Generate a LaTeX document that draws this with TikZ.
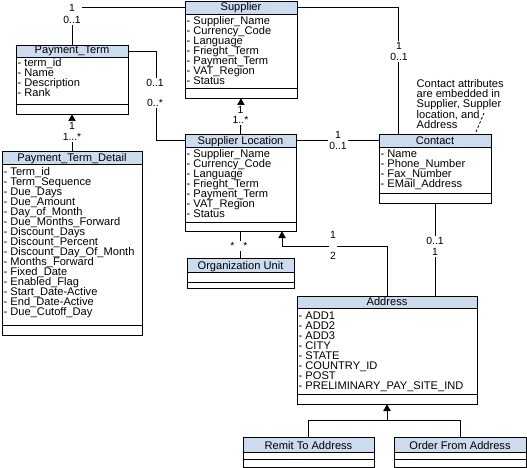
\documentclass[tikz,border=0pt]{standalone}
\usepackage{fontspec}
\setmainfont{Liberation Sans}
\usetikzlibrary{arrows.meta,fit,calc}
\definecolor{hdr}{RGB}{204,219,237}
\newcommand\cfont{\fontsize{11.1}{10}\selectfont}
\newcommand\lfont{\fontsize{10.4}{11}\selectfont}
% name, x1, y1, x2, y header bottom, y separator, y2, title
\newcommand\umlcls[8]{%
  \fill[hdr] (#2,#3) rectangle (#4,#5);
  \draw[box] (#2,#3) rectangle (#4,#7);
  \draw[box] (#2,#5) -- (#4,#5);
  \draw[box] (#2,#6) -- (#4,#6);
  \path (#2,#3) coordinate (#1-nw) (#4,#7) coordinate (#1-se)
        (#2,#5) coordinate (#1-hsw) (#4,#3) coordinate (#1-ne);
  \node[fit=(#1-nw)(#1-se),inner sep=0pt] (#1) {};
  \node[fit=(#1-nw)(#1-hsw)(#1-ne),inner sep=0pt] (#1-h) {};
  \node[ttl,anchor=base] (#1-t) at ({(#2+#4)/2},{#5-3}) {#8};
}
% name, x, first baseline, list
\newcommand\umlattrs[4]{%
  \foreach \t [count=\i from 0] in {#4}
    \node[attr,anchor=base west] (#1-a\i) at (#2,{#3+10*\i}) {- \t};
}
\begin{document}
\begin{tikzpicture}[x=1pt,y=-1pt,
  box/.style={line width=0.9pt},
  ttl/.style={font=\cfont,inner sep=0pt},
  attr/.style={font=\cfont,inner sep=0pt},
  lbl/.style={font=\lfont,fill=white,inner sep=1pt,align=center},
  conn/.style={line width=0.9pt},
  inh/.style={line width=0.9pt,-{Triangle[width=7.5pt,length=7pt]}},
  note/.style={font=\cfont,inner sep=0pt,align=left,anchor=north west}]
\useasboundingbox (0,0) rectangle (527,468);

\umlcls{sup}{185}{1}{297}{14}{88}{98}{Supplier}
\umlattrs{sup}{186.5}{25}{Supplier\_Name,Currency\_Code,Language,Frieght\_Term,Payment\_Term,VAT\_Region,Status}

\umlcls{pt}{16}{45}{128}{57}{104}{114}{Payment\_Term}
\umlattrs{pt}{17.5}{67}{term\_id,Name,Description,Rank}

\umlcls{ptd}{2}{151}{142}{164}{325}{335}{Payment\_Term\_Detail}
\umlattrs{ptd}{3.5}{175}{Term\_id,Term\_Sequence,Due\_Days,Due\_Amount,Day\_of\_Month,Due\_Months\_Forward,Discount\_Days,Discount\_Percent,Discount\_Day\_Of\_Month,Months\_Forward,Fixed\_Date,Enabled\_Flag,Start\_Date-Active,End\_Date-Active,Due\_Cutoff\_Day}

\umlcls{sl}{185}{134}{296}{147}{222}{231}{Supplier Location}
\umlattrs{sl}{186.5}{157.5}{Supplier\_Name,Currency\_Code,Language,Frieght\_Term,Payment\_Term,VAT\_Region,Status}

\umlcls{ou}{187}{258}{294}{272}{282}{288}{Organization Unit}

\umlcls{con}{379}{134}{491}{147}{193}{203}{Contact}
\umlattrs{con}{380.5}{157.5}{Name,Phone\_Number,Fax\_Number,EMail\_Address}

\umlcls{adr}{297}{296}{477}{308}{394}{404}{Address}
\umlattrs{adr}{298.5}{319}{ADD1,ADD2,ADD3,CITY,STATE,COUNTRY\_ID,POST,PRELIMINARY\_PAY\_SITE\_IND}

\umlcls{rem}{243}{437}{374}{452}{459}{467}{Remit To Address}
\umlcls{ord}{394}{437}{526}{452}{459}{467}{Order From Address}

% note
\node[note] (nt) at (416.5,79) {Contact attributes\\are embedded in\\Supplier, Suppler\\location, and\\Address};
\coordinate (ntp) at (484,113);
\draw[line width=0.8pt,dash pattern=on 2.5pt off 2pt] (ntp) -- ([xshift=-16pt]con.north east);

% connectors
\draw[conn] (pt.north) |- (sup-h.west);
\draw[conn] (pt-h.east) -- ++(28,0) |- (sl-h.west);
\draw[inh] (ptd.north) -- (pt.south);
\draw[inh] (sl.north) -- (sup.south);
\draw[conn] (sup-h.east) -| ([xshift=20pt]con.north west);
\draw[conn] (sl-h.east) -- (con-h.west);
\draw[conn] (con.south) -- (con.south |- adr.north);
\draw[inh] (adr.north) -- ++(0,-49) -| ([xshift=41.5pt]sl.south);
\draw[conn] (sl.south) -- (ou.north);
\coordinate (jn) at ($(adr.south)+(0,16)$);
\draw[inh] (jn) -- (adr.south);
\draw[conn] (rem.north) |- (jn);
\draw[conn] (ord.north) |- (jn);

% multiplicity labels
\node[lbl] (l1) at (72,14) {1\\[1pt]0..1};
\node[lbl] (l2) at (155,93) {0..1\\[9pt]0..*};
\node[lbl] (l3) at (72,131.5) {1\\1...*};
\node[lbl] (l4) at (240.5,115) {1\\[-1pt]1..*};
\node[lbl] (l5) at (399,51.5) {1\\0..1};
\node[lbl] (l6) at (338,140.5) {1\\0..1};
\node[lbl] (l7) at (435,246.5) {0..1\\1};
\node[lbl] (l8) at (333,245.5) {1\\[10pt]2};
\node[lbl] (l9) at (239,246) {*\hspace{9pt}*};
\end{tikzpicture}
\end{document}
